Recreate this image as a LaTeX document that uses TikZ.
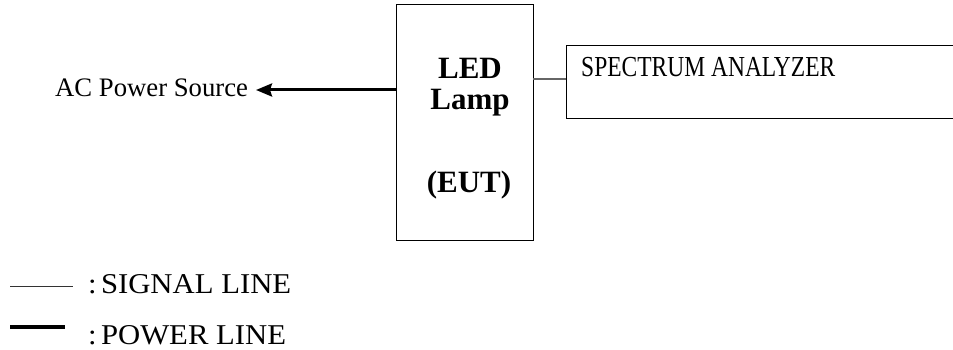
\documentclass[tikz,border=0pt]{standalone}
\usepackage{fontspec}
\setmainfont{Liberation Serif}
\usetikzlibrary{arrows.meta}
\begin{document}
\begin{tikzpicture}[x=1pt,y=-1pt,
  boxline/.style={draw=black,line width=1pt},
  sigline/.style={draw=black!60,line width=1.2pt},
  pwrline/.style={draw=black,line width=3pt},
  txt/.style={inner sep=0pt,anchor=base west},
  bold/.style={inner sep=0pt,anchor=base,font=\fontsize{31}{31}\selectfont\bfseries}]
\useasboundingbox[fill=white] (0,0) rectangle (953,350);
% EUT box
\node[boxline,minimum width=137pt,minimum height=235pt,inner sep=0pt] (eut) at (464.5,122.5) {};
\node[bold] (eutA) at (470,79) {LED};
\node[bold] (eutB) at (470,110) {Lamp};
\node[bold] (eutC) at (469,192) {(EUT)};
% spectrum analyzer (right edge beyond the page)
\node[boxline,minimum width=420pt,minimum height=73pt,inner sep=0pt,anchor=north west] (sa) at (566,45) {};
\node[txt,font=\fontsize{29}{29}\selectfont] (satext) at (581,77) {\scalebox{0.81}[1]{SPECTRUM ANALYZER}};
% AC power source
\node[txt,font=\fontsize{26.7}{26.7}\selectfont] (ac) at (55,97) {AC Power Source};
\coordinate (acend) at (256,90);
\coordinate (eutpw) at (396,90);
\draw[pwrline,-{Stealth[length=16pt,width=13pt,inset=2pt]}] (eutpw) -- (acend);
% signal line
\coordinate (eutsig) at (533,79);
\coordinate (sasig) at (566,79);
\draw[sigline] (eutsig) -- (sasig);
% legend
\coordinate (l1a) at (10,286);
\coordinate (l1b) at (73,286);
\draw[sigline,draw=black!80,line width=1pt] (l1a) -- (l1b);
\node[txt,font=\fontsize{28.7}{28.7}\selectfont] (leg1) at (88,293) {\scalebox{1.07}[1]{:\hspace{4pt}SIGNAL LINE}};
\coordinate (l2a) at (10,327);
\coordinate (l2b) at (65,327);
\draw[pwrline,line width=3.5pt] (l2a) -- (l2b);
\node[txt,font=\fontsize{28.7}{28.7}\selectfont] (leg2) at (88,344) {\scalebox{1.07}[1]{:\hspace{4pt}POWER LINE}};
\end{tikzpicture}
\end{document}
